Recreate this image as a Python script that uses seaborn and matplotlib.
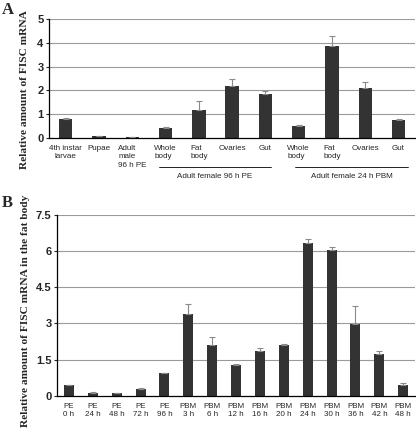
import matplotlib.pyplot as plt
import matplotlib.transforms as mtransforms
import numpy as np
import pandas as pd
import seaborn as sns

# panel A: tissues / stages
a_labels = ["4th instar\nlarvae", "Pupae", "Adult\nmale\n96 h PE", "Whole\nbody", "Fat\nbody",
            "Ovaries", "Gut", "Whole\nbody", "Fat\nbody", "Ovaries", "Gut"]
a_values = [0.81, 0.09, 0.04, 0.43, 1.19, 2.19, 1.87, 0.50, 3.88, 2.12, 0.77]
a_err = [0.02, 0.02, 0.01, 0.06, 0.39, 0.28, 0.11, 0.04, 0.41, 0.23, 0.03]
a_groups = ["Adult female 96 h PE", "Adult female 24 h PBM"]

# panel B: time course in the fat body
b_labels = ["PE\n0 h", "PE\n24 h", "PE\n48 h", "PE\n72 h", "PE\n96 h", "PBM\n3 h", "PBM\n6 h",
            "PBM\n12 h", "PBM\n16 h", "PBM\n20 h", "PBM\n24 h", "PBM\n30 h", "PBM\n36 h",
            "PBM\n42 h", "PBM\n48 h"]
b_values = [0.44, 0.14, 0.10, 0.30, 0.93, 3.39, 2.09, 1.27, 1.84, 2.10, 6.35, 6.04, 2.99, 1.74, 0.47]
b_err = [0.03, 0.01, 0.04, 0.03, 0.02, 0.41, 0.37, 0.07, 0.16, 0.03, 0.14, 0.11, 0.73, 0.14, 0.08]

sns.set_style("white")
plt.rcParams['font.family'] = ['Liberation Sans', 'DejaVu Sans']

bar_col = "#333333"
err_col = "#8a8a8a"
grid_col = "#9a9a9a"

fig = plt.figure(figsize=(4.16, 4.28), dpi=100)
axA = fig.add_axes([0.118, 0.677, 0.880, 0.279])
axB = fig.add_axes([0.137, 0.075, 0.861, 0.423])


def draw_panel(ax, labels, values, err, width, ticks, ylab, lab_xy):
    keys = [f"{i}" for i in range(len(labels))]
    df = pd.DataFrame({"cat": keys, "val": values})
    for t in ticks[1:]:
        ax.axhline(t, color=grid_col, lw=0.8, zorder=0)
    sns.barplot(data=df, x="cat", y="val", order=keys, color=bar_col, width=width,
                saturation=1, errorbar=None, linewidth=0, ax=ax, zorder=2)
    ax.errorbar(np.arange(len(values)), values, yerr=[np.zeros(len(err)), err], fmt="none",
                ecolor=err_col, elinewidth=0.8, capsize=2, capthick=0.8, zorder=3)
    ax.set_xlim(-0.5, len(labels) - 0.5)
    ax.set_ylim(0, ticks[-1])
    ax.set_yticks(ticks)
    ax.set_yticklabels([f"{t:g}" for t in ticks], fontsize=8, fontweight="bold")
    ax.set_xticks(range(len(labels)))
    ax.set_xticklabels(labels, fontsize=5.8, linespacing=1.25)
    ax.tick_params(axis="x", length=0, pad=5)
    ax.tick_params(axis="y", length=2.5, width=0.8, left=True, pad=1.5)
    ax.set_xlabel("")
    ax.set_ylabel(ylab, family=["Liberation Serif"], fontweight="bold", fontsize=8.2)
    ax.yaxis.set_label_coords(*lab_xy)
    for s in ["top", "right"]:
        ax.spines[s].set_visible(False)
    for s in ["left", "bottom"]:
        ax.spines[s].set_color("black")
        ax.spines[s].set_linewidth(0.9)


draw_panel(axA, a_labels, a_values, a_err, 0.4, [0, 1, 2, 3, 4, 5],
           "Relative amount of FISC mRNA", (-0.055, 0.41))
draw_panel(axB, b_labels, b_values, b_err, 0.42, [0, 1.5, 3, 4.5, 6, 7.5],
           "Relative amount of FISC mRNA in the fat body", (-0.075, 0.47))

for lab in axA.get_xticklabels()[1:]:
    lab.set_multialignment("left")

# group lines under panel A
trans = mtransforms.blended_transform_factory(axA.transData, axA.transAxes)
for (x0, x1), name in zip([(2.8, 6.17), (6.89, 10.29)], a_groups):
    axA.plot([x0, x1], [-0.245, -0.245], color="black", lw=0.6, transform=trans, clip_on=False)
    axA.text((x0 + x1) / 2, -0.29, name, transform=trans, ha="center", va="top", fontsize=5.8)

fig.text(0.005, 0.995, "A", family=["Liberation Serif"], fontweight="bold", fontsize=12, va="top")
fig.text(0.005, 0.545, "B", family=["Liberation Serif"], fontweight="bold", fontsize=12, va="top")

fig.savefig("out.png", dpi=100)
